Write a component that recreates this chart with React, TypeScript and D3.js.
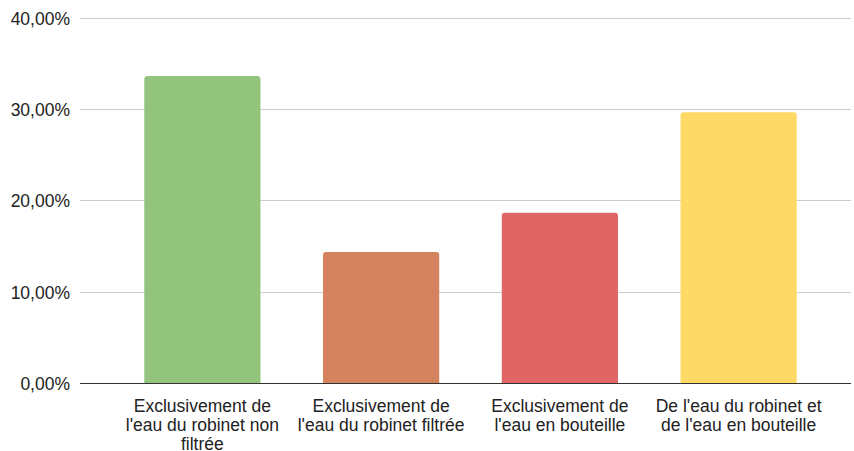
import React, { useMemo } from "react";
import * as d3 from "d3";

// Share of respondents by drinking-water habit
const categories = [
  "Exclusivement de l'eau du robinet non filtrée",
  "Exclusivement de l'eau du robinet filtrée",
  "Exclusivement de l'eau en bouteille",
  "De l'eau du robinet et de l'eau en bouteille",
];
const shares = [0.336, 0.1436, 0.1865, 0.2963];
const barColors = ["#93c47d", "#d5825f", "#e06666", "#ffd966"];
const yTicks = [0, 0.1, 0.2, 0.3, 0.4];

const WIDTH = 854;
const HEIGHT = 451;
const FONT = "Liberation Sans, Arial, sans-serif";
const FONT_SIZE = 17.5;
const WRAP_WIDTH = 175;

const formatPct = (v: number) => (v * 100).toFixed(2).replace(".", ",") + "%";

function wrapWords(text: string, maxWidth: number): string[] {
  const canvas = document.createElement("canvas");
  const ctx = canvas.getContext("2d")!;
  ctx.font = `${FONT_SIZE}px "Liberation Sans", Arial, sans-serif`;
  const words = text.split(" ");
  const lines: string[] = [];
  let current = "";
  for (const w of words) {
    const candidate = current ? current + " " + w : w;
    if (current && ctx.measureText(candidate).width > maxWidth) {
      lines.push(current);
      current = w;
    } else {
      current = candidate;
    }
  }
  if (current) lines.push(current);
  return lines;
}

// Bar with slightly rounded top corners
function topRoundedRect(x: number, y: number, w: number, h: number, r: number) {
  const rr = Math.min(r, w / 2, h);
  return `M${x},${y + h}V${y + rr}Q${x},${y} ${x + rr},${y}H${x + w - rr}Q${x + w},${y} ${x + w},${y + rr}V${y + h}Z`;
}

export default function App() {
  const x = d3
    .scaleBand<string>()
    .domain(categories)
    .range([113, 828])
    .paddingInner(0.35)
    .paddingOuter(0.175);
  const y = d3.scaleLinear().domain([0, 0.4]).range([383.3, 17.5]);

  const gridLeft = 80;
  const gridRight = 851;

  const wrapped = useMemo(() => categories.map((c) => wrapWords(c, WRAP_WIDTH)), []);

  return (
    <svg
      width={WIDTH}
      height={HEIGHT}
      style={{ position: "absolute", left: 0, top: 0, background: "#fff" }}
      fontFamily={FONT}
    >
      {yTicks.map((t) => {
        const yy = Math.round(y(t)) + 0.5;
        return (
          <g key={t}>
            {t > 0 && (
              <line x1={gridLeft} x2={gridRight} y1={yy} y2={yy} stroke="#cccccc" strokeWidth={1} />
            )}
            <text
              x={70}
              y={yy}
              dy="0.36em"
              textAnchor="end"
              fontSize={FONT_SIZE}
              fill="#222"
            >
              {formatPct(t)}
            </text>
          </g>
        );
      })}

      {categories.map((c, i) => {
        const bx = x(c)!;
        const by = y(shares[i]);
        return (
          <path
            key={c}
            d={topRoundedRect(bx, by, x.bandwidth(), y(0) - by, 3)}
            fill={barColors[i]}
          />
        );
      })}

      <line x1={gridLeft} x2={gridRight} y1={383.5} y2={383.5} stroke="#333" strokeWidth={1} />

      {categories.map((c, i) => {
        const cx = x(c)! + x.bandwidth() / 2;
        return (
          <text key={c} textAnchor="middle" fontSize={FONT_SIZE} fill="#222">
            {wrapped[i].map((line, j) => (
              <tspan key={j} x={cx} y={412 + j * 18.8}>
                {line}
              </tspan>
            ))}
          </text>
        );
      })}
    </svg>
  );
}
